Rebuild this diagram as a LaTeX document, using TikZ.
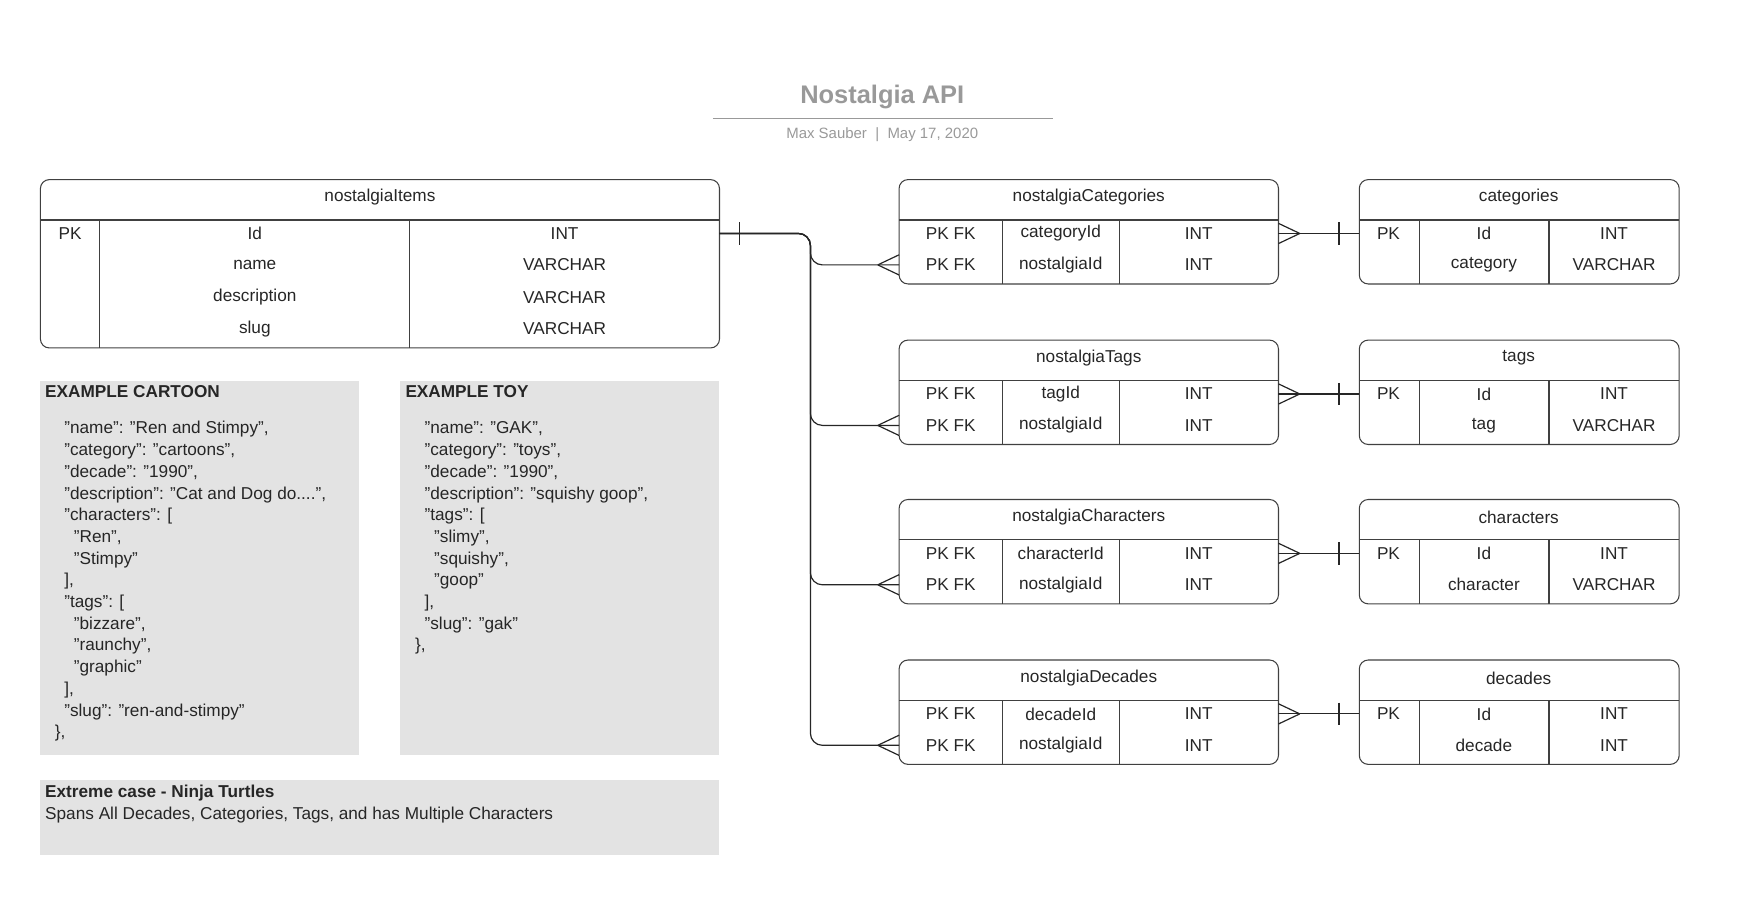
\documentclass[tikz,border=0pt]{standalone}
\usepackage{fontspec}
\setmainfont{Liberation Sans}
\begin{document}
\begin{tikzpicture}[x=0.75pt,y=-0.75pt,
  tb/.style={draw=black!75,line width=0.7pt,rounded corners=6pt},
  ln/.style={draw=black!75,line width=0.7pt},
  tx/.style={font=\fontsize{11.5}{13}\selectfont,text=black!85,inner sep=0pt},
  note/.style={fill=black!11,draw=none},
  nt/.style={font=\fontsize{11.5}{14.5}\selectfont,text=black!85,inner sep=0pt,anchor=north west,align=left},
  conn/.style={draw=black!85,line width=0.8pt,rounded corners=8pt}]
\useasboundingbox (0,0) rectangle (1568,823);
% title
\node[font=\bfseries\fontsize{17}{20}\selectfont,text=black!40] (title) at (786,86) {Nostalgia API};
\draw[black!40,line width=0.7pt] (635,106) -- (938,106);
\node[font=\fontsize{10}{12}\selectfont,text=black!40] (sub) at (786,120) {Max Sauber\ \ |\ \ May 17, 2020};
% nostalgiaItems
\draw[tb] (36,160) rectangle (641,310);
\draw[ln] (36,196) -- (641,196) (89,196) -- (89,310) (365,196) -- (365,310);
\node[tx] (items) at (338.5,176) {nostalgiaItems};
\node[tx] (ipk) at (62.5,208) {PK};
\node[tx] at (227,208) {Id};\node[tx] at (503,208) {INT};
\node[tx] at (227,236) {name};\node[tx] at (503,236) {VARCHAR};
\node[tx] at (227,265) {description};\node[tx] at (503,265) {VARCHAR};
\node[tx] at (227,293) {slug};\node[tx] at (503,293) {VARCHAR};
\coordinate (iout) at (641,208);
% tables
\foreach \t/\jn/\fk/\rn/\rf/\rt/\k in {160/nostalgiaCategories/categoryId/categories/category/VARCHAR/a,
  303/nostalgiaTags/tagId/tags/tag/VARCHAR/b,
  445/nostalgiaCharacters/characterId/characters/character/VARCHAR/c,
  588/nostalgiaDecades/decadeId/decades/decade/INT/d}{
  \draw[tb] (801,\t) rectangle (1139,\t+93);
  \draw[ln] (801,\t+36) -- (1139,\t+36) (893,\t+36) -- (893,\t+93) (997,\t+36) -- (997,\t+93);
  \node[tx] (j\k) at (970,\t+16) {\jn};
  \node[tx] at (847,\t+48) {PK FK};\node[tx] at (945,\t+48) {\fk};\node[tx] at (1068,\t+48) {INT};
  \node[tx] at (847,\t+76) {PK FK};\node[tx] at (945,\t+76) {nostalgiaId};\node[tx] at (1068,\t+76) {INT};
  \draw[tb] (1211,\t) rectangle (1496,\t+93);
  \draw[ln] (1211,\t+36) -- (1496,\t+36) (1265,\t+36) -- (1265,\t+93) (1380,\t+36) -- (1380,\t+93);
  \node[tx] (r\k) at (1353,\t+16) {\rn};
  \node[tx] at (1237,\t+48) {PK};\node[tx] at (1322,\t+48) {Id};\node[tx] at (1438,\t+48) {INT};
  \node[tx] at (1322,\t+76) {\rf};\node[tx] at (1438,\t+76) {\rt};
  \coordinate (jl\k) at (801,\t+76);
  \coordinate (jr\k) at (1139,\t+48);
  \coordinate (rl\k) at (1211,\t+48);
  \draw[conn] (iout) -- (722,208) -- (722,\t+76) -- (jl\k);
  \draw[conn] (782,\t+76) -- (801,\t+67) (782,\t+76) -- (801,\t+85);
  \draw[conn] (jr\k) -- (rl\k);
  \draw[conn] (1158,\t+48) -- (1139,\t+39) (1158,\t+48) -- (1139,\t+57);
  \draw[conn] (1193,\t+38) -- (1193,\t+58);
}
\draw[conn] (659,198) -- (659,218);
% notes
\fill[note] (36,339) rectangle (320,673);
\fill[note] (356,339) rectangle (641,673);
\fill[note] (36,695) rectangle (641,762);
\node[nt] (cart) at (40,343) {\textbf{EXAMPLE CARTOON}\\[10pt]
\ \ \ \ "name": "Ren and Stimpy",\\
\ \ \ \ "category": "cartoons",\\
\ \ \ \ "decade": "1990",\\
\ \ \ \ "description": "Cat and Dog do....",\\
\ \ \ \ "characters": [\\
\ \ \ \ \ \ "Ren",\\
\ \ \ \ \ \ "Stimpy"\\
\ \ \ \ ],\\
\ \ \ \ "tags": [\\
\ \ \ \ \ \ "bizzare",\\
\ \ \ \ \ \ "raunchy",\\
\ \ \ \ \ \ "graphic"\\
\ \ \ \ ],\\
\ \ \ \ "slug": "ren-and-stimpy"\\
\ \ \},};
\node[nt] (toy) at (361,343) {\textbf{EXAMPLE TOY}\\[10pt]
\ \ \ \ "name": "GAK",\\
\ \ \ \ "category": "toys",\\
\ \ \ \ "decade": "1990",\\
\ \ \ \ "description": "squishy goop",\\
\ \ \ \ "tags": [\\
\ \ \ \ \ \ "slimy",\\
\ \ \ \ \ \ "squishy",\\
\ \ \ \ \ \ "goop"\\
\ \ \ \ ],\\
\ \ \ \ "slug": "gak"\\
\ \ \},};
\node[nt] (ext) at (40,699) {\textbf{Extreme case - Ninja Turtles}\\
Spans All Decades, Categories, Tags, and has Multiple Characters};
\end{tikzpicture}
\end{document}
